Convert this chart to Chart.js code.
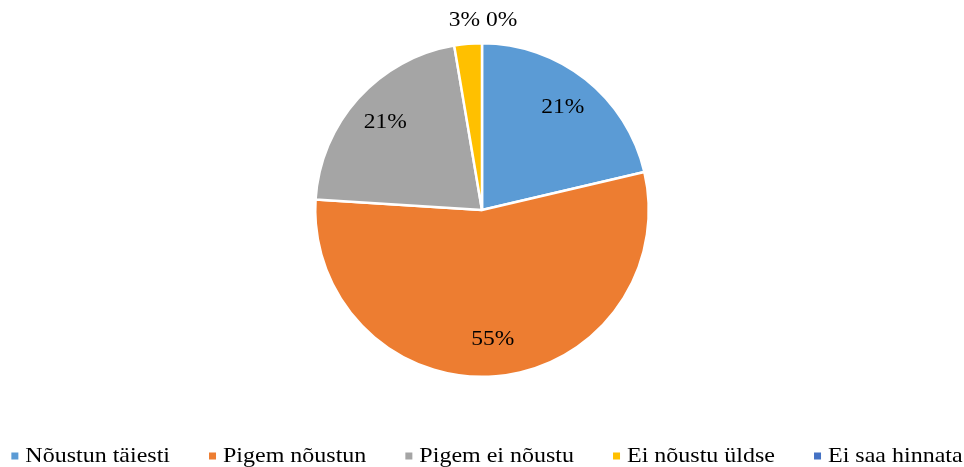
<!DOCTYPE html>
<html>
<head>
<meta charset="utf-8">
<script src="https://cdn.jsdelivr.net/npm/chart.js@4/dist/chart.umd.min.js"></script>
<style>
    html, body { margin: 0; padding: 0; background: #fff; }
    #wrap { position: relative; width: 964px; height: 467px; }
</style>
</head>
<body>
<div id="wrap"><canvas id="pie"></canvas></div>
<script>
// answer categories and respondent counts
const categories = ["Nõustun täiesti", "Pigem nõustun", "Pigem ei nõustu", "Ei nõustu üldse", "Ei saa hinnata"]
const counts = [16, 41, 16, 2, 0]
const colors = ["#5B9BD5", "#ED7D31", "#A5A5A5", "#FFC000", "#4472C4"]

const serif = "'Liberation Serif', 'Times New Roman', serif"

// text is a little flatter than the stock face
function squashText(ctx, text, x, y, sy) {
    ctx.save()
    ctx.translate(x, y)
    ctx.scale(1, sy)
    ctx.fillText(text, 0, 0)
    ctx.restore()
}

// percent labels: inside big slices, above the pie for tiny ones
const pctLabels = {
    id: "pctLabels",
    afterDatasetsDraw(chart) {
        const ctx = chart.ctx
        const meta = chart.getDatasetMeta(0)
        const total = counts.reduce((a, b) => a + b, 0)
        ctx.save()
        ctx.font = "23.5px " + serif
        ctx.fillStyle = "#000"
        ctx.textBaseline = "middle"
        meta.data.forEach((arc, i) => {
            const p = arc.getProps(["x", "y", "startAngle", "endAngle", "outerRadius"], true)
            const pct = Math.round(counts[i] / total * 100)
            const mid = (p.startAngle + p.endAngle) / 2
            const share = counts[i] / total
            if (share > 0.05) {
                const r = p.outerRadius * 0.78
                ctx.textAlign = "center"
                squashText(ctx, pct + "%", p.x + Math.cos(mid) * r, p.y + Math.sin(mid) * r, 0.85)
            } else {
                const y = p.y - p.outerRadius - 22
                if (Math.cos(mid) >= 0 || share === 0) {
                    ctx.textAlign = "left"
                    squashText(ctx, pct + "%", p.x + 4, y, 0.85)
                } else {
                    ctx.textAlign = "right"
                    squashText(ctx, pct + "%", p.x - 2, y, 0.85)
                }
            }
        })
        ctx.restore()
    }
}

// one-row legend along the bottom edge
const bottomLegend = {
    id: "bottomLegend",
    afterDraw(chart) {
        const ctx = chart.ctx
        const box = 7, boxGap = 7, itemGap = 39
        const y = chart.height - 11
        ctx.save()
        ctx.font = "24px " + serif
        ctx.textBaseline = "middle"
        ctx.textAlign = "left"
        const widths = categories.map(c => ctx.measureText(c).width)
        const total = widths.reduce((a, w) => a + w + box + boxGap, 0) + itemGap * (categories.length - 1)
        let x = (chart.width - total) / 2 + 5
        categories.forEach((c, i) => {
            ctx.fillStyle = colors[i]
            ctx.fillRect(x, y - box / 2, box, box)
            ctx.fillStyle = "#000"
            squashText(ctx, c, x + box + boxGap, y, 0.88)
            x += box + boxGap + widths[i] + itemGap
        })
        ctx.restore()
    }
}

new Chart("pie", {
    type: "pie",
    data: {
        labels: categories,
        datasets: [{
            data: counts,
            backgroundColor: colors,
            borderColor: "#fff",
            borderWidth: 2.5
        }]
    },
    options: {
        responsive: true,
        maintainAspectRatio: false,
        animation: false,
        layout: { padding: { top: 42, bottom: 89 } },
        plugins: {
            tooltip: { enabled: false },
            legend: { display: false }
        }
    },
    plugins: [pctLabels, bottomLegend]
})
</script>
</body>
</html>
